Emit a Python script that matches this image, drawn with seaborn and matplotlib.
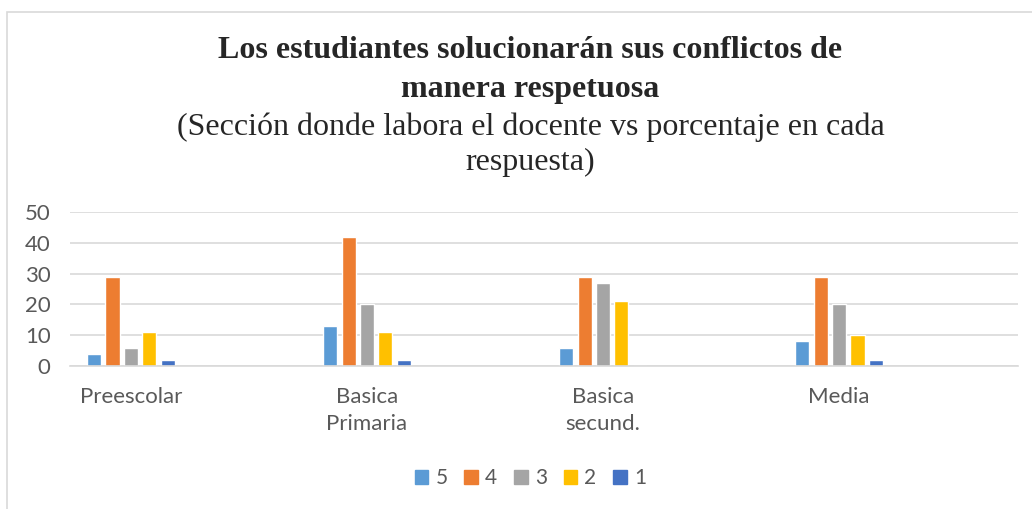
import pandas as pd
import seaborn as sns
import matplotlib.pyplot as plt
from matplotlib.patches import Rectangle

# Data
categories = ["Preescolar", "Basica\nPrimaria", "Basica\nsecund.", "Media"]
series = ["5", "4", "3", "2", "1"]
vals_5 = [4, 13, 6, 8]
vals_4 = [29, 42, 29, 29]
vals_3 = [6, 20, 27, 20]
vals_2 = [11, 11, 21, 10]
vals_1 = [2, 2, 0, 2]
colors = ["#5B9BD5", "#ED7D31", "#A5A5A5", "#FFC000", "#4472C4"]

# long format for seaborn
rows = []
for name, vals in zip(series, [vals_5, vals_4, vals_3, vals_2, vals_1]):
    for cat, v in zip(categories, vals):
        rows.append({"seccion": cat, "respuesta": name, "valor": v})
df = pd.DataFrame(rows)

sns.set_style("white")
plt.rcParams["font.family"] = ["Lato", "DejaVu Sans"]

fig = plt.figure(figsize=(10.32, 5.09), dpi=100)
ax = fig.add_axes([70 / 1032, 143 / 509, 948 / 1032, 154 / 509])

sns.barplot(data=df, x="seccion", y="valor", hue="respuesta", hue_order=series,
            palette=colors, width=0.39, gap=0.235, ax=ax, legend=False,
            saturation=1, errorbar=None)

ax.set_xlim(-0.258, 3.758)
ax.set_ylim(0, 50)
ax.set_yticks([0, 10, 20, 30, 40, 50])
ax.yaxis.grid(True, color="#D9D9D9", linewidth=1.2)
ax.set_axisbelow(True)
for s in ["top", "right", "left"]:
    ax.spines[s].set_visible(False)
ax.spines["bottom"].set_color("#D9D9D9")
ax.spines["bottom"].set_linewidth(1.2)
ax.tick_params(axis="both", length=0, labelsize=16, colors="#595959")
ax.tick_params(axis="x", pad=15)
ax.tick_params(axis="y", pad=14)
ax.set_xlabel("")
ax.set_ylabel("")
for lbl in ax.get_xticklabels():
    lbl.set_linespacing(1.45)

# titles
fig.text(0.514, 1 - 50 / 509, "Los estudiantes solucionarán sus conflictos de",
         ha="center", va="center", fontsize=23, fontweight="bold",
         family="Liberation Serif")
fig.text(0.514, 1 - 89 / 509, "manera respetuosa",
         ha="center", va="center", fontsize=23, fontweight="bold",
         family="Liberation Serif")
fig.text(0.514, 1 - 127 / 509, "(Sección donde labora el docente vs porcentaje en cada",
         ha="center", va="center", fontsize=23, family="Liberation Serif")
fig.text(0.514, 1 - 162 / 509, "respuesta)",
         ha="center", va="center", fontsize=23, family="Liberation Serif")

# legend
handles = [Rectangle((0, 0), 1, 1, color=c) for c in colors]
fig.legend(handles, series, loc="center", bbox_to_anchor=(0.514, 1 - 478 / 509),
           ncol=5, frameon=False, fontsize=15, handlelength=0.65, handleheight=0.65,
           handletextpad=0.35, columnspacing=0.8, labelcolor="#595959")

# chart border
fig.patches.append(Rectangle((7 / 1032, -0.01), 1.0, 1 - 12 / 509 + 0.01,
                             transform=fig.transFigure, fill=False,
                             edgecolor="#D9D9D9", linewidth=1.2))

fig.savefig("out.png", dpi=100)
